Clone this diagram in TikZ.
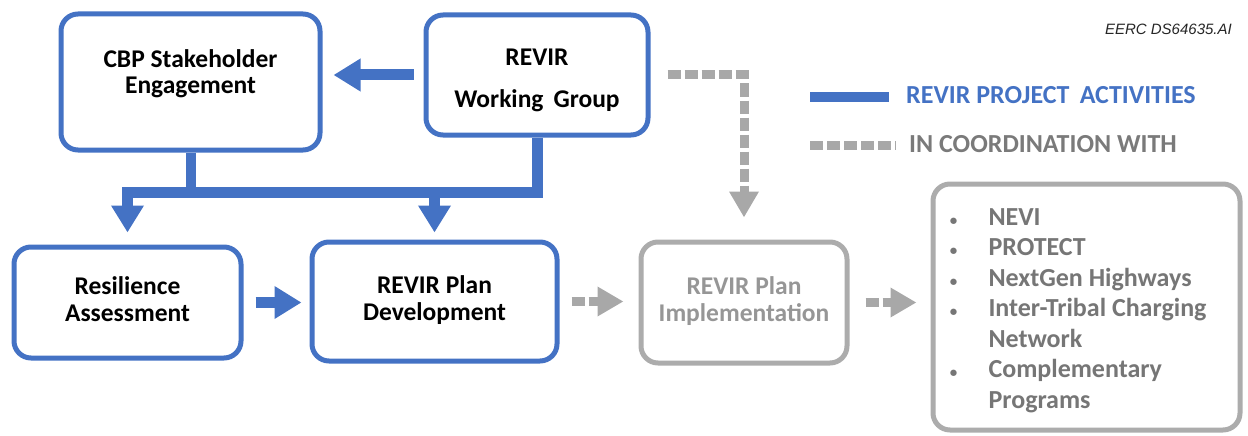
\documentclass[tikz,border=0pt]{standalone}
\usepackage{fontspec}
\setmainfont{Carlito}
\newfontfamily\arialf{Liberation Sans}
\usetikzlibrary{arrows.meta}
\definecolor{revblue}{RGB}{68,114,196}
\definecolor{arrgray}{RGB}{168,168,168}
\definecolor{boxgray}{RGB}{172,172,172}
\definecolor{impltext}{RGB}{150,150,150}
\definecolor{listtext}{RGB}{118,118,118}
\definecolor{legtext}{RGB}{122,122,122}
\newcommand{\vshift}[2]{\raisebox{#1}[\height][\depth]{\begin{tabular}{@{}c@{}}#2\end{tabular}}}
\newcommand{\smallbullet}{\makebox[8pt]{\fontsize{15}{15}\selectfont\textbullet}}
\begin{document}
\begin{tikzpicture}[x=1pt,y=-1pt,
  boxbase/.style={line width=5pt, rounded corners=17pt, fill=white, align=center, inner sep=0pt,
    font=\fontsize{25.5}{27}\selectfont\bfseries},
  bluebox/.style={boxbase, draw=revblue, text=black},
  graybox/.style={boxbase, draw=boxgray, text=impltext},
  bluearrow/.style={draw=revblue, line width=11pt, line join=miter,
    -{Triangle[length=27pt,width=31pt]}},
  bluebar/.style={draw=revblue, line width=10pt, line join=miter},
  grayarrow/.style={draw=arrgray, line width=9pt, dash pattern=on 13pt off 4pt,
    -{Triangle[length=26pt,width=28pt]}},
  legendtext/.style={anchor=base west, inner sep=0pt, font=\fontsize{26}{27}\selectfont\bfseries}
]
\useasboundingbox (0,0) rectangle (1248,436);

% boxes
\node[bluebox, minimum width=259pt, minimum height=136pt] (cbp) at (190.5,82)
  {\vshift{7.4pt}{CBP Stakeholder\\[-1pt]Engagement}};
\node[bluebox, minimum width=222pt, minimum height=120pt] (wg) at (537,75)
  {\vshift{-5.6pt}{REVIR\\[15pt]Working\, Group}};
\node[bluebox, minimum width=227pt, minimum height=111pt] (res) at (127.5,302.5)
  {\vshift{0pt}{Resilience\\Assessment}};
\node[bluebox, minimum width=245pt, minimum height=119pt] (plan) at (434.5,301.5)
  {\vshift{0pt}{REVIR Plan\\Development}};
\node[graybox, minimum width=206pt, minimum height=121pt] (impl) at (744,302.5)
  {\vshift{0pt}{REVIR Plan\\Implementation}};
\node[graybox, text=listtext, minimum width=307pt, minimum height=246pt] (lst) at (1086.5,307)
  {\fontsize{26}{30.5}\selectfont
   \raisebox{-3.4pt}[\height][\depth]{%
   \begin{tabular}{@{}l@{\hspace{31pt}}l@{\hspace{17pt}}}
   \smallbullet & NEVI\\
   \smallbullet & PROTECT\\
   \smallbullet & NextGen Highways\\
   \smallbullet & Inter-Tribal Charging\\
               & Network\\
   \smallbullet & Complementary\\
               & Programs
   \end{tabular}}};

% blue connectors
\coordinate (bar) at (0,192);
\draw[bluearrow, shorten <=10pt, shorten >=11pt] (wg.west) -- (wg.west -| cbp.east);
\draw[bluebar] (cbp.south) -- (cbp.south |- bar);
\draw[bluearrow, shorten >=12pt] (wg.south) |- (res.north |- bar) -- (res.north);
\draw[bluearrow, shorten >=7pt] (plan.north |- bar) -- (plan.north);
\draw[bluearrow, shorten <=12pt, shorten >=8pt] (res.east) -- (res.east -| plan.west);

% gray connectors
\draw[grayarrow, shorten <=17pt, shorten >=22pt] (wg.east) -| (impl.north);
\draw[grayarrow, shorten <=12pt, shorten >=15pt] (plan.east) -- (plan.east -| impl.west);
\draw[grayarrow, shorten <=16pt, shorten >=14pt] (impl.east) -- (impl.east -| lst.west);

% legend
\node[legendtext, text=revblue] (legA) at (906,103) {REVIR PROJECT\, ACTIVITIES};
\node[legendtext, text=legtext] (legB) at (909,152) {IN COORDINATION WITH};
\draw[bluebar] (810,97) -- (889,97);
\draw[draw=arrgray, line width=9pt, dash pattern=on 13pt off 4pt] (810,145) -- (896,145);

% id
\node[anchor=base east, inner sep=0pt, font=\arialf\itshape\fontsize{15}{18}\selectfont, text=black!85] (eid) at (1232,35) {EERC DS64635.AI};
\end{tikzpicture}
\end{document}
